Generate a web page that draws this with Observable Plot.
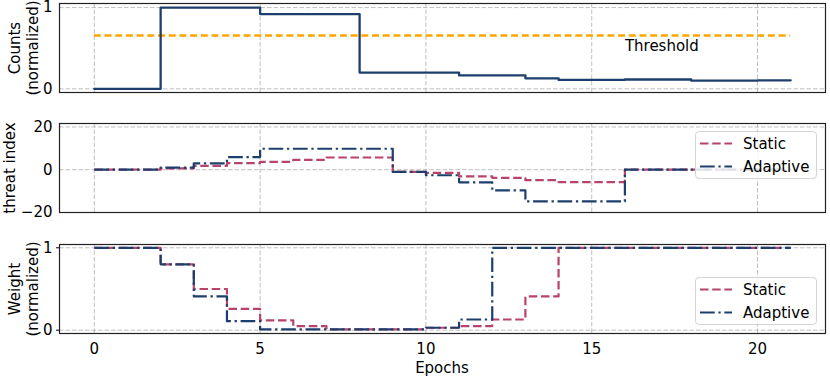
<!DOCTYPE html>
<html><head><meta charset="utf-8">
<script src="https://cdn.jsdelivr.net/npm/d3@7"></script>
<script src="https://cdn.jsdelivr.net/npm/@observablehq/plot@0.6"></script>
<style>
body{margin:0;background:#fff;}
#wrap{position:relative;width:830px;height:380px;font-family:"DejaVu Sans",sans-serif;color:#000;overflow:hidden;}
#wrap svg.panel{position:absolute;left:0;overflow:visible;}
.lab{position:absolute;white-space:nowrap;text-align:center;font-size:15px;line-height:18px;}
.rot{transform:translate(-50%,-50%) rotate(-90deg);}
.ctr{transform:translate(-50%,-50%);}
.legend{position:absolute;width:120px;height:46px;border:1px solid #d4d4d4;border-radius:4px;background:rgba(255,255,255,0.85);font-size:15px;}
.legend svg{position:absolute;left:0;top:0;}
.legend span{position:absolute;left:47px;line-height:18px;transform:translateY(-50%);}
</style>
</head><body>
<div id="wrap"></div>
<script>
// ---- data ----
const epochs = [0,1,2,3,4,5,6,7,8,9,10,11,12,13,14,15,16,17,18,19,20,21];
const counts = [0,0,1,1,1,0.92,0.92,0.92,0.20,0.20,0.20,0.165,0.165,0.13,0.11,0.11,0.115,0.115,0.10,0.10,0.105,0.105];
const threshold = 0.655;
const thresholdLabel = "Threshold";
const threatStatic   = [0,0,0.6,1.8,3.1,3.7,4.6,5.7,5.7,-1,-1.5,-3.1,-3.8,-4.9,-5.8,-5.8,0,0,0,0,0,0];
const threatAdaptive = [0,0,1.0,3.0,5.9,9.8,9.8,9.8,9.8,-1,-2.6,-5.9,-9.7,-14.8,-14.8,-14.8,0,0,0,0,0,0];
const weightStatic   = [1,1,0.8,0.5,0.26,0.12,0.05,0.01,0.01,0.01,0.03,0.05,0.13,0.41,1,1,1,1,1,1,1,1];
const weightAdaptive = [1,1,0.8,0.41,0.11,0.01,0.01,0.01,0.01,0.01,0.03,0.13,1,1,1,1,1,1,1,1,1,1];
const xTicks = [0,5,10,15,20];
const seriesNames = ["Static","Adaptive"];
const yLabels = ["Counts\n(normalized)","threat index","Weight\n(normalized)"];
const xLabel = "Epochs";

// ---- styles ----
const NAVY = "#1c3f6e", CRIMSON = "#b8436b", ORANGE = "#ffa500";
const DASH = "8.5,3.7", DASHDOT = "14.7,3.7,2.3,3.7";
const wrap = document.getElementById("wrap");
const tbl = (vals) => epochs.map((e,i)=>({epoch:e, value:vals[i]}));
const fmt = d => d < 0 ? "\u2212" + Math.abs(d) : String(d);

function grid(yt){
  return [
    Plot.ruleX(xTicks, {stroke:"#b8b8b8", strokeWidth:0.9, strokeDasharray:"4.5,2"}),
    Plot.ruleY(yt, {stroke:"#b8b8b8", strokeWidth:0.9, strokeDasharray:"4.5,2"})
  ];
}
function panel(top, height, mt, mb, ydom, yt, ytickSize, showX, marks){
  const svg = Plot.plot({
    width: 830, height, marginLeft: 59, marginRight: 5, marginTop: mt, marginBottom: mb,
    style: {fontFamily: "DejaVu Sans, sans-serif", fontSize: "15px", color: "#000", background: "transparent", overflow:"visible"},
    x: showX ? {domain:[-1.05,22.05], ticks:xTicks, tickSize:0, tickPadding:10, tickFormat:fmt, label:null}
             : {domain:[-1.05,22.05], axis:null},
    y: {domain: ydom, ticks: yt, tickSize: ytickSize, tickPadding: 7 - ytickSize, tickFormat: fmt, label: null},
    marks: [...grid(yt), ...marks, Plot.frame({stroke:"#222", strokeWidth:1.2})]
  });
  svg.classList.add("panel");
  svg.style.top = top + "px";
  wrap.appendChild(svg);
}

// Panel 1
panel(0, 100, 3, 8, [-0.045,1.05], [0,1], 0, false, [
  Plot.ruleY([threshold], {x1:0, x2:21, stroke:ORANGE, strokeWidth:2.5, strokeDasharray:"7,3.7"}),
  Plot.line(tbl(counts), {x:"epoch", y:"value", curve:"step-after", stroke:NAVY, strokeWidth:2.3}),
  Plot.text([thresholdLabel], {x:()=>16, y:()=>0.52, text:d=>d, textAnchor:"start", fontSize:15, fill:"#000"})
]);

// Panel 2
panel(115, 105, 8, 8, [-20,21.6], [-20,0,20], 0, false, [
  Plot.line(tbl(threatStatic), {x:"epoch", y:"value", curve:"step-after", stroke:CRIMSON, strokeWidth:2.2, strokeDasharray:DASH, strokeLinecap:"butt"}),
  Plot.line(tbl(threatAdaptive), {x:"epoch", y:"value", curve:"step-after", stroke:NAVY, strokeWidth:2.2, strokeDasharray:DASHDOT, strokeLinecap:"butt"})
]);

// Panel 3
panel(236, 144, 8, 47, [-0.04,1.04], [0,1], 3, true, [
  Plot.line(tbl(weightStatic), {x:"epoch", y:"value", curve:"step-after", stroke:CRIMSON, strokeWidth:2.2, strokeDasharray:DASH, strokeLinecap:"butt"}),
  Plot.line(tbl(weightAdaptive), {x:"epoch", y:"value", curve:"step-after", stroke:NAVY, strokeWidth:2.2, strokeDasharray:DASHDOT, strokeLinecap:"butt"})
]);

// Axis labels
function addLabel(text, x, y, rotate){
  const d = document.createElement("div");
  d.className = "lab " + (rotate ? "rot" : "ctr");
  d.style.left = x + "px"; d.style.top = y + "px";
  d.innerHTML = text.split("\n").map(s=>s.replace(/&/g,"&amp;").replace(/</g,"&lt;")).join("<br>");
  wrap.appendChild(d);
}
addLabel(yLabels[0], 24, 47.5, true);
addLabel(yLabels[1], 10, 167.5, true);
addLabel(yLabels[2], 24, 288.5, true);
addLabel(xLabel, 442, 368, false);

// Legends
function addLegend(left, top){
  const box = document.createElement("div");
  box.className = "legend";
  box.style.left = left + "px"; box.style.top = top + "px";
  const rows = [{y:11.5, color:CRIMSON, dash:DASH}, {y:34.5, color:NAVY, dash:DASHDOT}];
  const ns = "http://www.w3.org/2000/svg";
  const s = document.createElementNS(ns, "svg");
  s.setAttribute("width", 120); s.setAttribute("height", 46);
  rows.forEach((r,i)=>{
    const l = document.createElementNS(ns, "line");
    l.setAttribute("x1", 4); l.setAttribute("x2", 36);
    l.setAttribute("y1", r.y); l.setAttribute("y2", r.y);
    l.setAttribute("stroke", r.color); l.setAttribute("stroke-width", 2.2);
    l.setAttribute("stroke-dasharray", r.dash);
    s.appendChild(l);
  });
  box.appendChild(s);
  rows.forEach((r,i)=>{
    const sp = document.createElement("span");
    sp.textContent = seriesNames[i];
    sp.style.top = r.y + "px";
    box.appendChild(sp);
  });
  wrap.appendChild(box);
}
addLegend(695, 131);
addLegend(695, 277);
</script>
</body></html>
